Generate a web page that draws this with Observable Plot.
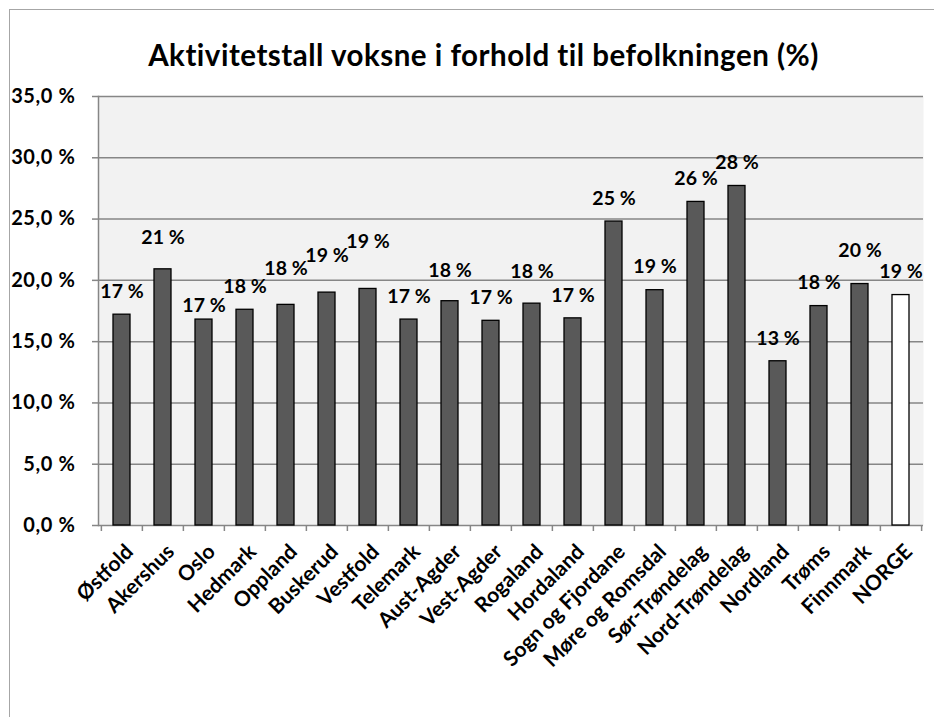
<!DOCTYPE html>
<html>
<head>
<meta charset="utf-8">
<script src="https://cdn.jsdelivr.net/npm/d3@7"></script>
<script src="https://cdn.jsdelivr.net/npm/@observablehq/plot@0.6"></script>
<style>
  html, body { margin: 0; padding: 0; background: #fff; overflow: hidden; }
  #page { position: relative; width: 934px; height: 717px; overflow: hidden; font-family: Lato, "Open Sans", sans-serif; }
  #frame { position: absolute; left: 9px; top: 9px; width: 960px; height: 760px; border: 1.5px solid #a6a6a6; box-sizing: border-box; }
  #title { position: absolute; left: 33px; top: 0; width: 901px; height: 80px; line-height: 110px; text-align: center; font-weight: 700; font-size: 29.5px; letter-spacing: 0.5px; color: #000; }
  #chart { position: absolute; left: 0; top: 80px; }
  #chart g[aria-label="y-axis tick label"] text { letter-spacing: 0.6px; }
</style>
</head>
<body>
<div id="page">
  <div id="frame"></div>
  <div id="title">Aktivitetstall voksne i forhold til befolkningen (%)</div>
  <div id="chart"></div>
</div>
<script>
const categories = ["Østfold","Akershus","Oslo","Hedmark","Oppland","Buskerud","Vestfold","Telemark","Aust-Agder","Vest-Agder","Rogaland","Hordaland","Sogn og Fjordane","Møre og Romsdal","Sør-Trøndelag","Nord-Trøndelag","Nordland","Trøms","Finnmark","NORGE"];
const values = [17.2, 20.9, 16.8, 17.6, 18.0, 19.0, 19.3, 16.8, 18.3, 16.7, 18.1, 16.9, 24.8, 19.2, 26.4, 27.7, 13.4, 17.9, 19.7, 18.8];
const yTicks = [0, 5, 10, 15, 20, 25, 30, 35];
// extra lift (px) of individual value labels, as placed in the original
const labelLift = [0, 9, -9, 0, 13, 14, 24, 0, 7, 0, 9, 0, 0, 0, 0, 0, 0, 0, 10, 0];

const data = categories.map((c, i) => ({name: c, value: values[i], lift: labelLift[i], total: c === "NORGE"}));

const W = 934, H = 637, mL = 98, mR = 11, mT = 16, mB = 192;
const step = (W - mL - mR) / categories.length;
const fmtTick = d => d.toFixed(1).replace(".", ",") + " %";
const fmtLabel = d => Math.round(d) + " %";

const chart = Plot.plot({
  width: W, height: H,
  marginLeft: mL, marginRight: mR, marginTop: mT, marginBottom: mB,
  style: {fontFamily: "Lato, 'Open Sans', sans-serif", fontWeight: 700, color: "#000", background: "transparent", overflow: "visible"},
  x: {domain: categories, paddingInner: 0.59, paddingOuter: 0.295, axis: null},
  y: {domain: [0, 35], axis: null},
  marks: [
    Plot.frame({fill: "#f2f2f2", stroke: null}),
    Plot.ruleY(yTicks, {stroke: "#868686", strokeWidth: 1.5}),
    Plot.frame({anchor: "left", stroke: "#868686", strokeWidth: 1.5}),
    Plot.axisY({ticks: yTicks, tickSize: 6, tickPadding: 17, tickFormat: fmtTick, stroke: "#868686", strokeWidth: 1.5, fontSize: 20, fontWeight: 700, fill: "#000", label: null}),
    Plot.axisX({ticks: categories, tickSize: 6, dx: -step / 2, text: null, stroke: "#868686", strokeWidth: 1.5, label: null}),
    Plot.axisX({ticks: categories.slice(-1), tickSize: 6, dx: step / 2, text: null, stroke: "#868686", strokeWidth: 1.5, label: null}),
    Plot.barY(data, {x: "name", y: "value", fill: d => d.total ? "#ffffff" : "#595959", stroke: "#000", strokeWidth: 1.3}),
    Plot.text(data, {x: "name", y: "value", text: d => fmtLabel(d.value), fontSize: 19.5, fontWeight: 700, fill: "#000", lineAnchor: "middle"}),
    Plot.text(categories, {x: d => d, y: 0, text: d => d, rotate: -45, textAnchor: "end", lineAnchor: "top", dx: 2, dy: 17, fontSize: 21, fontWeight: 700, fill: "#000"})
  ]
});
document.getElementById("chart").appendChild(chart);

// apply per-label lift: Plot's dy is a constant, so shift the value labels after rendering
const textGroups = chart.querySelectorAll("g[aria-label='text']");
const valueLabels = textGroups[0].querySelectorAll("text");
valueLabels.forEach((t, i) => {
  const tr = t.getAttribute("transform") || "";
  t.setAttribute("transform", tr + ` translate(0,${-23 - data[i].lift})`);
});
</script>
</body>
</html>
